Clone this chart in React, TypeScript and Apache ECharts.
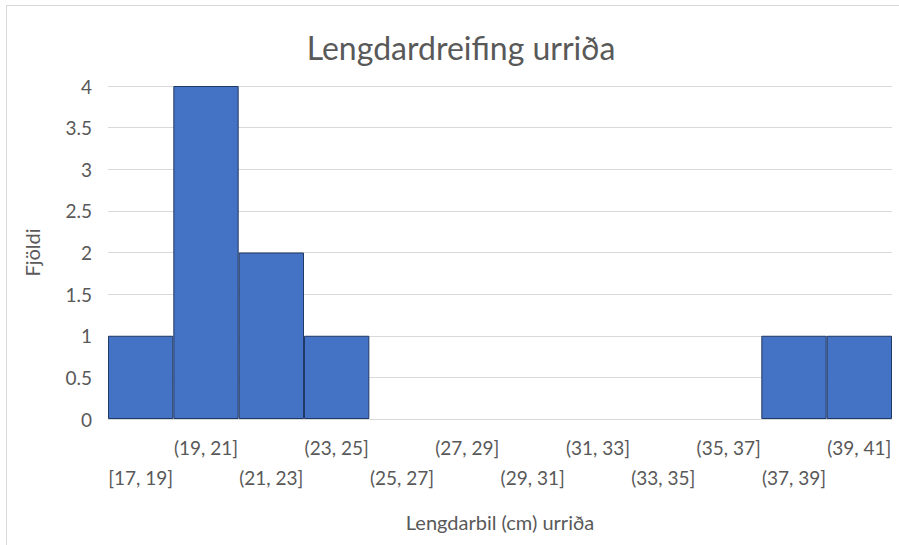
import React, { useEffect, useRef } from "react";
import * as echarts from "echarts";

const categories = [
  "[17, 19]", "(19, 21]", "(21, 23]", "(23, 25]", "(25, 27]", "(27, 29]",
  "(29, 31]", "(31, 33]", "(33, 35]", "(35, 37]", "(37, 39]", "(39, 41]",
];
const counts = [1, 4, 2, 1, 0, 0, 0, 0, 0, 0, 1, 1];
const titleText = "Lengdardreifing urriða";
const xName = "Lengdarbil (cm) urriða";
const yName = "Fjöldi";

const FONT = "Lato, 'Open Sans', sans-serif";
const GRAY = "#595959";

export default function App() {
  const ref = useRef<HTMLDivElement>(null);
  useEffect(() => {
    if (!ref.current) return;
    const chart = echarts.init(ref.current, undefined, { renderer: "svg" });
    chart.setOption({
      animation: false,
      backgroundColor: "#ffffff",
      title: {
        text: titleText,
        left: 456,
        textAlign: "center",
        top: 26,
        textStyle: { fontFamily: FONT, fontSize: 32, fontWeight: "normal", color: GRAY },
      },
      graphic: [
        { type: "line", shape: { x1: 6, y1: 5.5, x2: 899, y2: 5.5 }, style: { stroke: "#d9d9d9", lineWidth: 1 } },
        { type: "line", shape: { x1: 6.5, y1: 5, x2: 6.5, y2: 545 }, style: { stroke: "#d9d9d9", lineWidth: 1 } },
      ],
      grid: { left: 108, right: 7, top: 86, bottom: 126 },
      xAxis: {
        type: "category",
        data: categories,
        name: xName,
        nameLocation: "middle",
        nameGap: 93,
        nameTextStyle: { fontFamily: FONT, fontSize: 20, color: GRAY },
        axisLine: { show: true, lineStyle: { color: "#d9d9d9" } },
        axisTick: { show: false },
        axisLabel: {
          interval: 0,
          margin: 13,
          fontFamily: FONT,
          fontSize: 19,
          color: GRAY,
          lineHeight: 30,
          formatter: (v: string, i: number) => (i % 2 === 0 ? "\n" + v : v),
        },
      },
      yAxis: {
        type: "value",
        min: 0,
        max: 4,
        interval: 0.5,
        name: yName,
        nameLocation: "middle",
        nameGap: 66,
        nameTextStyle: { fontFamily: FONT, fontSize: 20, color: GRAY },
        axisLine: { show: false },
        axisTick: { show: false },
        axisLabel: { fontFamily: FONT, fontSize: 19, color: GRAY, margin: 16 },
        splitLine: { lineStyle: { color: "#d9d9d9", width: 1 } },
      },
      series: [
        {
          type: "bar",
          data: counts.map((v) => (v === 0 ? { value: v, itemStyle: { borderWidth: 0 } } : v)),
          barCategoryGap: "0%",
          itemStyle: { color: "#4472C4", borderColor: "#203864", borderWidth: 1 },
        },
      ],
    });
    return () => chart.dispose();
  }, []);
  return (
    <div
      ref={ref}
      style={{ position: "fixed", left: 0, top: 0, width: 899, height: 545 }}
    />
  );
}
